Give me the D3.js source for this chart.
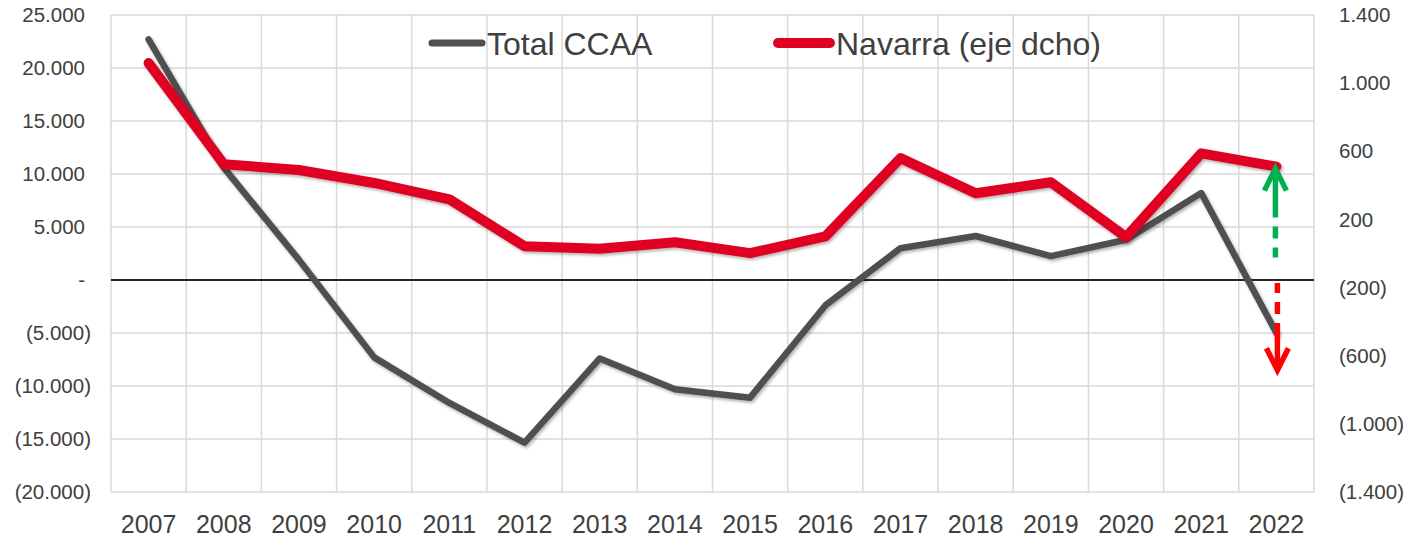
<!DOCTYPE html>
<html>
<head>
<meta charset="utf-8">
<script src="https://cdn.jsdelivr.net/npm/d3@7"></script>
<style>
  body { margin: 0; background: #fff; }
  text { font-family: "Liberation Sans", Arial, sans-serif; fill: #404040; }
</style>
</head>
<body>
<svg width="1412" height="537"></svg>
<script>
// data
var years = ['2007','2008','2009','2010','2011','2012','2013','2014','2015','2016','2017','2018','2019','2020','2021','2022'];
var totalCCAA = [22700, 10600, 1900, -7300, -11600, -15350, -7400, -10300, -11100, -2400, 3000, 4150, 2250, 3800, 8200, -5000];
var navarra = [1118, 524, 490, 414, 318, 42, 28, 66, 2, 100, 560, 354, 418, 96, 588, 510];
var leftTicks = [-20000, -15000, -10000, -5000, 0, 5000, 10000, 15000, 20000, 25000];
var rightTicks = [-1400, -1000, -600, -200, 200, 600, 1000, 1400];
// annotation arrows on 2022: green up (right axis), red down (left axis)
var arrowUp = [0, 510];
var arrowDown = [0, -8700];

var svg = d3.select('svg'),
    margin = { top: 15, right: 98, bottom: 45, left: 111 },
    width  = +svg.attr('width') - margin.left - margin.right,
    height = +svg.attr('height') - margin.top - margin.bottom;

var x = d3.scaleBand().domain(years).range([margin.left, margin.left + width]).padding(0),
    yL = d3.scaleLinear().domain([-20000, 25000]).range([margin.top + height, margin.top]),
    yR = d3.scaleLinear().domain([-1400, 1400]).range([margin.top + height, margin.top]);

var es = d3.formatLocale({ decimal: ',', thousands: '.', grouping: [3], currency: ['', ''] }).format(',');
function acc(v) {
  if (v === 0) return '-';
  return v < 0 ? '(' + es(-v) + ')' : es(v);
}

var defs = svg.append('defs');
defs.append('filter').attr('id', 'shadow')
    .attr('x', '-5%').attr('y', '-5%').attr('width', '110%').attr('height', '120%')
  .append('feDropShadow')
    .attr('dx', 1.5).attr('dy', 2).attr('stdDeviation', 1.5)
    .attr('flood-color', '#000').attr('flood-opacity', 0.3);

//grid
var grid = svg.append('g');
grid.selectAll('.hg').data(leftTicks).enter().append('line')
    .attr('x1', margin.left).attr('x2', margin.left + width)
    .attr('y1', function(d) { return yL(d); }).attr('y2', function(d) { return yL(d); })
    .attr('stroke', '#d9d9d9').attr('stroke-width', 1.5);
var bounds = years.map(function(d) { return x(d); }).concat([margin.left + width]);
grid.selectAll('.vg').data(bounds).enter().append('line')
    .attr('x1', function(d) { return d; }).attr('x2', function(d) { return d; })
    .attr('y1', margin.top).attr('y2', margin.top + height)
    .attr('stroke', '#d9d9d9').attr('stroke-width', 1.5);

//zero line
svg.append('line')
    .attr('x1', margin.left).attr('x2', margin.left + width)
    .attr('y1', yL(0)).attr('y2', yL(0))
    .attr('stroke', '#262626').attr('stroke-width', 2);

//axes labels
svg.append('g').selectAll('text').data(leftTicks).enter().append('text')
    .attr('x', function(d) { return d < 0 ? 91 : 85; })
    .attr('y', function(d) { return yL(d); })
    .attr('dy', '0.35em')
    .attr('text-anchor', 'end')
    .style('font-size', '20.5px')
    .text(acc);

svg.append('g').selectAll('text').data(rightTicks).enter().append('text')
    .attr('x', 1339)
    .attr('y', function(d) { return yR(d); })
    .attr('dy', '0.35em')
    .style('font-size', '20.5px')
    .text(acc);

svg.append('g').selectAll('text').data(years).enter().append('text')
    .attr('x', function(d) { return x(d) + x.bandwidth() / 2; })
    .attr('y', 533)
    .attr('text-anchor', 'middle')
    .style('font-size', '25px')
    .text(function(d) { return d; });

//lines
var lineL = d3.line().x(function(d, i) { return x(years[i]) + x.bandwidth() / 2; }).y(function(d) { return yL(d); });
var lineR = d3.line().x(function(d, i) { return x(years[i]) + x.bandwidth() / 2; }).y(function(d) { return yR(d); });

svg.append('path').datum(totalCCAA)
    .attr('d', lineL)
    .attr('fill', 'none').attr('stroke', '#505050').attr('stroke-width', 6.5)
    .attr('stroke-linejoin', 'round').attr('stroke-linecap', 'round')
    .attr('filter', 'url(#shadow)');

svg.append('path').datum(navarra)
    .attr('d', lineR)
    .attr('fill', 'none').attr('stroke', '#df0024').attr('stroke-width', 10)
    .attr('stroke-linejoin', 'round').attr('stroke-linecap', 'round')
    .attr('filter', 'url(#shadow)');

//arrows
var ax = x('2022') + x.bandwidth() / 2;
function arrow(y0, y1, color, offset) {
  var dir = y1 < y0 ? 1 : -1; // 1 = pointing up
  var g = svg.append('g');
  g.append('line')
      .attr('x1', ax + offset).attr('x2', ax + offset)
      .attr('y1', y0).attr('y2', y1 + dir * 4)
      .attr('stroke', color).attr('stroke-width', 5.5)
      .attr('stroke-dasharray', '10,9,12,9,60');
  g.append('path')
      .attr('d', 'M' + (ax + offset - 11) + ',' + (y1 + dir * 24) + 'L' + (ax + offset) + ',' + (y1 + dir * 2) +
                 'L' + (ax + offset + 11) + ',' + (y1 + dir * 24))
      .attr('fill', 'none').attr('stroke', color).attr('stroke-width', 5.5)
      .attr('stroke-linejoin', 'miter');
}
arrow(yR(arrowUp[0]) + 4, yR(arrowUp[1]), '#00b050', -1);
arrow(yL(arrowDown[0]) + 3, yL(arrowDown[1]), '#ff0000', 1);

//legend
var legend = svg.append('g');
legend.append('line').attr('x1', 432).attr('x2', 482).attr('y1', 43).attr('y2', 43)
    .attr('stroke', '#505050').attr('stroke-width', 7).attr('stroke-linecap', 'round');
legend.append('text').attr('x', 487).attr('y', 55)
    .style('font-size', '32px')
    .text('Total CCAA');
legend.append('line').attr('x1', 778).attr('x2', 830).attr('y1', 43).attr('y2', 43)
    .attr('stroke', '#df0024').attr('stroke-width', 10).attr('stroke-linecap', 'round');
legend.append('text').attr('x', 836).attr('y', 55)
    .style('font-size', '32px')
    .text('Navarra (eje dcho)');
</script>
</body>
</html>
